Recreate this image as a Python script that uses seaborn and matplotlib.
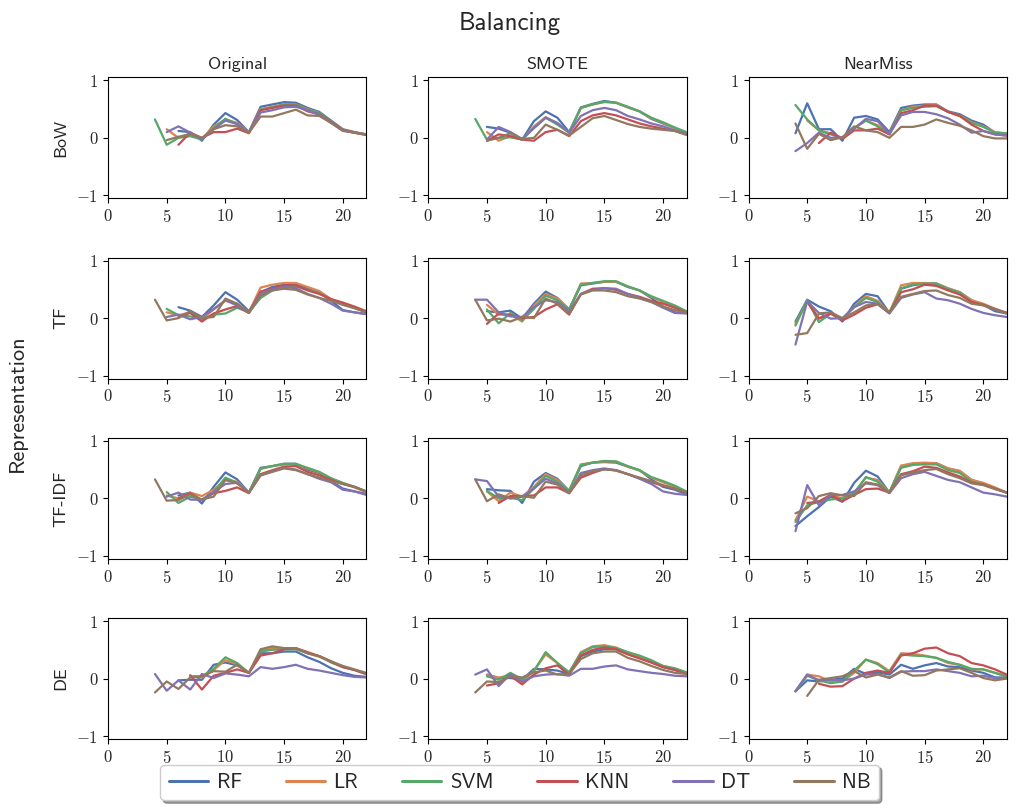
import numpy as np
import pandas as pd
import matplotlib
matplotlib.use("Agg")
import matplotlib.pyplot as plt
import seaborn as sns
from matplotlib.ticker import FuncFormatter

N = np.nan
steps = list(range(4, 23))
models = ["RF", "LR", "SVM", "KNN", "DT", "NB"]
balancings = ["Original", "SMOTE", "NearMiss"]
representations = ["BoW", "TF", "TF-IDF", "DE"]

# one dict per panel, values for steps 4..22
bow_original = {
    "RF":  [N, N, 0.12, 0.10, -0.05, 0.23, 0.43, 0.31, 0.10, 0.54, 0.58, 0.62, 0.61, 0.52, 0.45, 0.30, 0.15, 0.10, 0.06],
    "LR":  [N, 0.15, 0.00, 0.08, -0.02, 0.20, 0.32, 0.26, 0.10, 0.50, 0.54, 0.58, 0.58, 0.50, 0.43, 0.28, 0.14, 0.10, 0.06],
    "SVM": [0.32, -0.12, 0.00, 0.03, -0.03, 0.17, 0.33, 0.24, 0.09, 0.49, 0.53, 0.58, 0.58, 0.49, 0.43, 0.28, 0.13, 0.09, 0.06],
    "KNN": [N, N, -0.12, 0.09, 0.00, 0.10, 0.10, 0.16, 0.08, 0.48, 0.52, 0.56, 0.56, 0.46, 0.41, 0.27, 0.14, 0.09, 0.06],
    "DT":  [N, 0.10, 0.20, 0.09, -0.02, 0.15, 0.30, 0.24, 0.09, 0.44, 0.48, 0.53, 0.54, 0.48, 0.40, 0.26, 0.12, 0.09, 0.05],
    "NB":  [N, -0.04, 0.02, 0.06, 0.00, 0.15, 0.22, 0.20, 0.09, 0.37, 0.37, 0.43, 0.49, 0.39, 0.38, 0.26, 0.13, 0.09, 0.05],
}
bow_smote = {
    "RF":  [N, 0.19, 0.16, 0.09, -0.03, 0.29, 0.46, 0.35, 0.10, 0.53, 0.59, 0.64, 0.61, 0.53, 0.46, 0.33, 0.25, 0.17, 0.08],
    "LR":  [N, 0.10, -0.05, 0.03, -0.03, 0.20, 0.36, 0.25, 0.09, 0.52, 0.58, 0.62, 0.61, 0.53, 0.46, 0.34, 0.26, 0.17, 0.09],
    "SVM": [0.33, -0.03, 0.00, 0.01, -0.03, 0.17, 0.35, 0.23, 0.09, 0.52, 0.58, 0.63, 0.61, 0.54, 0.46, 0.35, 0.27, 0.18, 0.10],
    "KNN": [N, -0.05, 0.06, 0.03, -0.03, -0.05, 0.10, 0.14, 0.03, 0.29, 0.39, 0.43, 0.39, 0.32, 0.25, 0.20, 0.16, 0.12, 0.06],
    "DT":  [N, -0.03, 0.19, 0.10, -0.02, 0.17, 0.35, 0.26, 0.09, 0.38, 0.48, 0.52, 0.48, 0.38, 0.32, 0.25, 0.20, 0.13, 0.07],
    "NB":  [N, -0.05, 0.00, 0.08, -0.02, 0.00, 0.23, 0.14, 0.04, 0.19, 0.34, 0.38, 0.31, 0.24, 0.19, 0.16, 0.14, 0.12, 0.05],
}
bow_nearmiss = {
    "RF":  [0.08, 0.60, 0.15, 0.15, -0.05, 0.35, 0.38, 0.32, 0.10, 0.52, 0.56, 0.58, 0.58, 0.46, 0.41, 0.30, 0.23, 0.09, 0.08],
    "LR":  [N, 0.30, 0.13, 0.08, 0.00, 0.17, 0.30, 0.22, 0.07, 0.48, 0.54, 0.56, 0.57, 0.45, 0.39, 0.27, 0.20, 0.10, 0.07],
    "SVM": [0.57, 0.32, 0.13, 0.06, 0.00, 0.17, 0.30, 0.20, 0.06, 0.48, 0.52, 0.54, 0.55, 0.45, 0.38, 0.26, 0.19, 0.09, 0.08],
    "KNN": [N, N, -0.09, 0.09, -0.02, 0.13, 0.13, 0.16, 0.06, 0.43, 0.48, 0.56, 0.56, 0.45, 0.38, 0.23, 0.12, 0.06, 0.04],
    "DT":  [-0.23, -0.09, 0.09, 0.00, 0.01, 0.16, 0.33, 0.29, 0.07, 0.39, 0.45, 0.45, 0.41, 0.34, 0.23, 0.09, 0.12, 0.06, 0.04],
    "NB":  [0.25, -0.19, 0.07, -0.04, 0.01, 0.20, 0.13, 0.10, 0.00, 0.19, 0.19, 0.23, 0.32, 0.26, 0.21, 0.13, 0.03, -0.01, -0.01],
}
tf_original = {
    "RF":  [N, N, 0.19, 0.13, 0.02, 0.22, 0.45, 0.32, 0.12, 0.45, 0.54, 0.58, 0.60, 0.51, 0.45, 0.30, 0.14, 0.10, 0.07],
    "LR":  [N, 0.10, 0.05, 0.10, -0.02, 0.15, 0.30, 0.25, 0.10, 0.53, 0.58, 0.61, 0.61, 0.54, 0.47, 0.33, 0.25, 0.18, 0.11],
    "SVM": [N, 0.16, 0.05, 0.03, -0.02, 0.06, 0.08, 0.18, 0.10, 0.35, 0.48, 0.54, 0.55, 0.49, 0.43, 0.32, 0.24, 0.18, 0.10],
    "KNN": [N, N, 0.02, 0.09, -0.06, 0.08, 0.15, 0.21, 0.09, 0.46, 0.51, 0.57, 0.57, 0.48, 0.42, 0.33, 0.27, 0.20, 0.12],
    "DT":  [N, 0.02, 0.06, -0.02, 0.02, 0.16, 0.31, 0.22, 0.09, 0.42, 0.50, 0.54, 0.52, 0.42, 0.35, 0.25, 0.13, 0.10, 0.07],
    "NB":  [0.32, -0.04, 0.00, 0.12, 0.00, 0.02, 0.34, 0.25, 0.09, 0.39, 0.48, 0.51, 0.49, 0.41, 0.35, 0.30, 0.23, 0.17, 0.10],
}
tf_smote = {
    "RF":  [N, 0.12, 0.10, 0.13, -0.01, 0.25, 0.46, 0.35, 0.15, 0.57, 0.60, 0.63, 0.63, 0.54, 0.48, 0.35, 0.20, 0.10, 0.09],
    "LR":  [N, 0.23, 0.06, 0.06, -0.06, 0.22, 0.42, 0.34, 0.15, 0.60, 0.61, 0.63, 0.63, 0.55, 0.48, 0.37, 0.28, 0.20, 0.11],
    "SVM": [N, 0.15, -0.09, 0.09, -0.04, 0.16, 0.39, 0.31, 0.15, 0.58, 0.61, 0.64, 0.64, 0.55, 0.48, 0.38, 0.30, 0.22, 0.12],
    "KNN": [N, -0.10, 0.08, 0.05, 0.00, 0.02, 0.15, 0.24, 0.06, 0.42, 0.51, 0.52, 0.49, 0.42, 0.37, 0.30, 0.25, 0.18, 0.10],
    "DT":  [0.32, 0.32, 0.10, 0.03, 0.02, 0.19, 0.31, 0.28, 0.12, 0.42, 0.49, 0.52, 0.51, 0.42, 0.35, 0.28, 0.18, 0.09, 0.08],
    "NB":  [0.32, -0.04, -0.01, -0.06, 0.02, 0.00, 0.34, 0.25, 0.08, 0.41, 0.48, 0.48, 0.45, 0.38, 0.34, 0.28, 0.20, 0.14, 0.10],
}
tf_nearmiss = {
    "RF":  [-0.06, 0.32, 0.20, 0.12, -0.06, 0.25, 0.42, 0.38, 0.09, 0.51, 0.57, 0.60, 0.60, 0.51, 0.45, 0.31, 0.23, 0.12, 0.08],
    "LR":  [-0.10, 0.30, 0.00, 0.08, -0.02, 0.20, 0.38, 0.30, 0.09, 0.57, 0.61, 0.61, 0.60, 0.52, 0.45, 0.31, 0.25, 0.16, 0.09],
    "SVM": [-0.13, 0.31, -0.07, 0.08, -0.01, 0.19, 0.35, 0.28, 0.09, 0.52, 0.58, 0.60, 0.60, 0.51, 0.44, 0.28, 0.23, 0.15, 0.09],
    "KNN": [N, 0.28, -0.01, 0.08, -0.04, 0.06, 0.18, 0.24, 0.09, 0.45, 0.50, 0.58, 0.56, 0.48, 0.41, 0.28, 0.23, 0.16, 0.09],
    "DT":  [-0.46, 0.29, 0.09, -0.01, 0.00, 0.19, 0.28, 0.25, 0.08, 0.35, 0.41, 0.45, 0.34, 0.31, 0.25, 0.16, 0.09, 0.05, 0.02],
    "NB":  [-0.29, -0.26, 0.08, 0.10, 0.00, 0.10, 0.22, 0.25, 0.09, 0.37, 0.42, 0.47, 0.48, 0.40, 0.35, 0.25, 0.22, 0.15, 0.08],
}
tfidf_original = {
    "RF":  [N, N, 0.05, 0.10, -0.09, 0.20, 0.45, 0.33, 0.10, 0.53, 0.56, 0.60, 0.60, 0.50, 0.44, 0.30, 0.17, 0.12, 0.08],
    "LR":  [N, 0.05, 0.00, 0.10, 0.04, 0.15, 0.32, 0.29, 0.10, 0.51, 0.56, 0.59, 0.59, 0.52, 0.45, 0.34, 0.26, 0.19, 0.11],
    "SVM": [N, 0.11, -0.08, 0.03, -0.02, 0.11, 0.36, 0.27, 0.10, 0.52, 0.56, 0.60, 0.60, 0.53, 0.46, 0.35, 0.27, 0.20, 0.12],
    "KNN": [N, N, 0.00, 0.09, -0.03, 0.09, 0.13, 0.19, 0.09, 0.42, 0.49, 0.55, 0.56, 0.46, 0.40, 0.32, 0.25, 0.20, 0.12],
    "DT":  [N, 0.03, 0.10, -0.02, -0.03, 0.11, 0.25, 0.27, 0.10, 0.40, 0.47, 0.53, 0.50, 0.42, 0.34, 0.28, 0.15, 0.12, 0.06],
    "NB":  [0.33, -0.04, -0.03, 0.07, -0.02, 0.03, 0.32, 0.26, 0.10, 0.40, 0.46, 0.52, 0.49, 0.42, 0.36, 0.30, 0.25, 0.20, 0.12],
}
tfidf_smote = {
    "RF":  [N, 0.16, 0.14, 0.13, -0.08, 0.29, 0.44, 0.34, 0.13, 0.56, 0.62, 0.63, 0.62, 0.55, 0.49, 0.33, 0.20, 0.15, 0.07],
    "LR":  [N, 0.12, -0.05, 0.10, 0.03, 0.20, 0.42, 0.32, 0.13, 0.59, 0.62, 0.64, 0.64, 0.55, 0.48, 0.36, 0.28, 0.20, 0.10],
    "SVM": [N, 0.13, 0.00, 0.01, -0.03, 0.17, 0.39, 0.29, 0.13, 0.58, 0.62, 0.65, 0.64, 0.56, 0.49, 0.37, 0.30, 0.22, 0.12],
    "KNN": [N, N, -0.08, 0.04, 0.04, 0.05, 0.19, 0.19, 0.09, 0.36, 0.44, 0.51, 0.48, 0.42, 0.35, 0.28, 0.22, 0.17, 0.10],
    "DT":  [0.33, 0.30, 0.03, 0.00, 0.03, 0.17, 0.34, 0.26, 0.09, 0.44, 0.49, 0.52, 0.49, 0.42, 0.34, 0.25, 0.12, 0.08, 0.06],
    "NB":  [0.33, -0.05, 0.07, 0.00, 0.04, 0.01, 0.29, 0.24, 0.09, 0.40, 0.47, 0.50, 0.49, 0.42, 0.36, 0.30, 0.23, 0.17, 0.10],
}
tfidf_nearmiss = {
    "RF":  [-0.48, -0.31, -0.15, 0.03, -0.06, 0.27, 0.48, 0.38, 0.10, 0.56, 0.60, 0.61, 0.61, 0.52, 0.47, 0.32, 0.26, 0.17, 0.10],
    "LR":  [-0.38, 0.03, -0.05, 0.06, 0.00, 0.10, 0.36, 0.32, 0.10, 0.57, 0.61, 0.62, 0.61, 0.52, 0.48, 0.32, 0.27, 0.19, 0.10],
    "SVM": [-0.41, -0.12, -0.06, -0.02, 0.00, 0.09, 0.37, 0.29, 0.10, 0.53, 0.58, 0.59, 0.59, 0.49, 0.44, 0.29, 0.24, 0.17, 0.10],
    "KNN": [N, -0.08, -0.06, 0.06, -0.05, 0.06, 0.16, 0.17, 0.10, 0.42, 0.47, 0.55, 0.53, 0.45, 0.38, 0.27, 0.24, 0.17, 0.10],
    "DT":  [-0.57, 0.23, -0.12, 0.06, 0.06, 0.12, 0.26, 0.23, 0.09, 0.35, 0.42, 0.46, 0.39, 0.32, 0.28, 0.19, 0.10, 0.07, 0.03],
    "NB":  [-0.26, -0.17, 0.04, 0.09, 0.05, 0.04, 0.28, 0.24, 0.10, 0.40, 0.45, 0.49, 0.51, 0.42, 0.35, 0.26, 0.23, 0.16, 0.10],
}
de_original = {
    "RF":  [N, N, -0.03, -0.02, -0.02, 0.24, 0.28, 0.23, 0.10, 0.44, 0.44, 0.47, 0.47, 0.37, 0.29, 0.18, 0.10, 0.05, 0.03],
    "LR":  [N, N, N, 0.04, 0.02, 0.15, 0.32, 0.25, 0.10, 0.48, 0.53, 0.52, 0.52, 0.44, 0.38, 0.29, 0.21, 0.15, 0.08],
    "SVM": [N, N, N, 0.04, 0.04, 0.17, 0.37, 0.27, 0.10, 0.47, 0.50, 0.51, 0.51, 0.44, 0.39, 0.28, 0.20, 0.15, 0.08],
    "KNN": [N, N, N, 0.06, -0.19, 0.05, 0.10, 0.16, 0.10, 0.40, 0.44, 0.51, 0.53, 0.46, 0.39, 0.30, 0.20, 0.15, 0.08],
    "DT":  [0.08, -0.21, -0.03, -0.19, 0.08, 0.01, 0.09, 0.07, 0.04, 0.20, 0.17, 0.20, 0.24, 0.17, 0.14, 0.10, 0.06, 0.03, 0.02],
    "NB":  [-0.24, -0.05, -0.18, 0.02, 0.04, 0.13, 0.12, 0.24, 0.10, 0.51, 0.56, 0.53, 0.53, 0.44, 0.39, 0.30, 0.22, 0.16, 0.10],
}
de_smote = {
    "RF":  [N, 0.07, 0.01, 0.01, -0.02, 0.17, 0.16, 0.14, 0.08, 0.39, 0.47, 0.51, 0.51, 0.43, 0.36, 0.28, 0.20, 0.15, 0.10],
    "LR":  [N, 0.06, 0.02, 0.05, -0.07, 0.14, 0.42, 0.27, 0.10, 0.46, 0.56, 0.58, 0.54, 0.45, 0.38, 0.30, 0.22, 0.17, 0.10],
    "SVM": [N, 0.04, -0.02, 0.10, -0.01, 0.13, 0.46, 0.27, 0.11, 0.44, 0.55, 0.56, 0.53, 0.46, 0.40, 0.32, 0.22, 0.18, 0.11],
    "KNN": [N, -0.12, -0.08, 0.05, -0.10, 0.07, 0.18, 0.23, 0.07, 0.40, 0.50, 0.54, 0.51, 0.42, 0.35, 0.28, 0.20, 0.15, 0.08],
    "DT":  [0.07, 0.16, -0.13, 0.08, -0.05, 0.04, 0.07, 0.08, 0.05, 0.17, 0.17, 0.21, 0.23, 0.16, 0.13, 0.10, 0.08, 0.05, 0.04],
    "NB":  [-0.24, -0.05, -0.06, 0.04, 0.02, 0.11, 0.14, 0.07, 0.08, 0.34, 0.44, 0.47, 0.47, 0.36, 0.30, 0.22, 0.15, 0.10, 0.08],
}
de_nearmiss = {
    "RF":  [-0.22, -0.03, -0.05, -0.02, 0.00, 0.17, 0.08, 0.11, 0.07, 0.24, 0.17, 0.23, 0.27, 0.21, 0.20, 0.14, 0.10, 0.02, 0.02],
    "LR":  [-0.22, 0.07, 0.04, -0.05, -0.05, 0.10, 0.33, 0.27, 0.13, 0.44, 0.43, 0.40, 0.36, 0.27, 0.24, 0.16, 0.16, 0.10, 0.04],
    "SVM": [-0.22, 0.05, -0.03, -0.08, -0.05, 0.14, 0.33, 0.25, 0.11, 0.42, 0.40, 0.39, 0.36, 0.29, 0.24, 0.17, 0.16, 0.10, 0.04],
    "KNN": [N, N, -0.09, -0.14, -0.13, 0.00, 0.10, 0.14, 0.10, 0.40, 0.44, 0.52, 0.54, 0.44, 0.39, 0.27, 0.23, 0.16, 0.07],
    "DT":  [-0.22, 0.07, -0.03, -0.02, -0.03, 0.00, 0.07, 0.08, 0.01, 0.12, 0.13, 0.13, 0.16, 0.13, 0.10, 0.04, 0.05, 0.01, 0.01],
    "NB":  [N, -0.30, -0.02, 0.01, 0.04, 0.13, 0.02, 0.07, 0.02, 0.13, 0.05, 0.06, 0.14, 0.16, 0.18, 0.10, 0.01, -0.03, 0.00],
}

panels = {
    ("BoW", "Original"): bow_original, ("BoW", "SMOTE"): bow_smote, ("BoW", "NearMiss"): bow_nearmiss,
    ("TF", "Original"): tf_original, ("TF", "SMOTE"): tf_smote, ("TF", "NearMiss"): tf_nearmiss,
    ("TF-IDF", "Original"): tfidf_original, ("TF-IDF", "SMOTE"): tfidf_smote, ("TF-IDF", "NearMiss"): tfidf_nearmiss,
    ("DE", "Original"): de_original, ("DE", "SMOTE"): de_smote, ("DE", "NearMiss"): de_nearmiss,
}

sns.set_style("ticks")
plt.rcParams["font.family"] = "cmss10"
plt.rcParams["mathtext.fontset"] = "cm"
plt.rcParams["axes.unicode_minus"] = True

palette = dict(zip(models, sns.color_palette("deep", 6)))
tex_fmt = FuncFormatter(lambda v, pos: r"$%g$" % v)

fig, axes = plt.subplots(4, 3, figsize=(10.19, 8.06), dpi=100)
fig.subplots_adjust(left=0.106, right=0.988, top=0.904, bottom=0.083, wspace=0.24, hspace=0.49)

for i, rep in enumerate(representations):
    for j, bal in enumerate(balancings):
        ax = axes[i, j]
        scores = panels[(rep, bal)]
        df = pd.DataFrame({
            "step": steps * len(models),
            "model": np.repeat(models, len(steps)),
            "score": np.concatenate([scores[m] for m in models]),
        })
        sns.lineplot(data=df, x="step", y="score", hue="model", hue_order=models,
                     palette=palette, linewidth=1.6, ax=ax, legend=(i == 0 and j == 0))
        ax.set_xlim(0, 22)
        ax.set_ylim(-1.05, 1.05)
        ax.set_xticks([0, 5, 10, 15, 20])
        ax.set_yticks([-1, 0, 1])
        ax.xaxis.set_major_formatter(tex_fmt)
        ax.yaxis.set_major_formatter(tex_fmt)
        ax.tick_params(labelsize=12, color="black")
        for s in ax.spines.values():
            s.set_color("black")
        ax.set_xlabel("")
        ax.set_ylabel(rep if j == 0 else "", fontsize=13, labelpad=6)
        if i == 0:
            ax.set_title(bal, fontsize=13)

handles, labels = axes[0, 0].get_legend_handles_labels()
axes[0, 0].get_legend().remove()
leg = fig.legend(handles, labels, loc="lower center", bbox_to_anchor=(0.51, -0.006), ncol=6,
                 fontsize=15, shadow=True, columnspacing=2.1, handlelength=1.9, handletextpad=0.4)
for line in leg.get_lines():
    line.set_linewidth(2.2)

fig.suptitle("Balancing", fontsize=18, y=0.985)
fig.supylabel("Representation", fontsize=16, x=0.008)

plt.savefig("out.png", dpi=100)
